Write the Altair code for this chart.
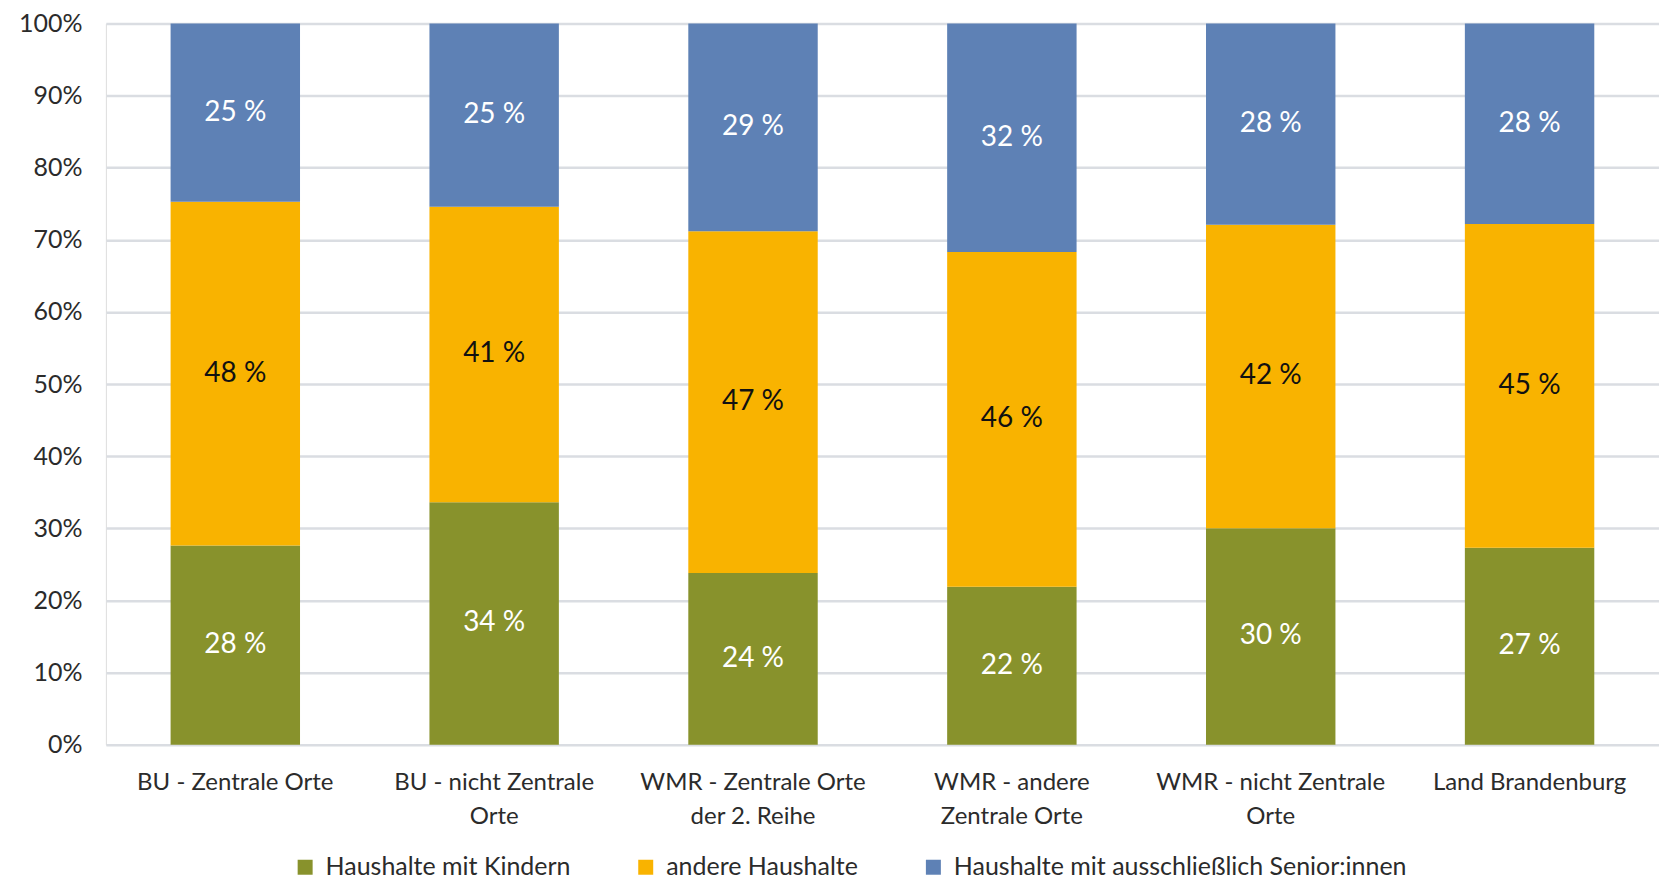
import altair as alt
import pandas as pd

categories = [
    "BU - Zentrale Orte",
    "BU - nicht Zentrale\nOrte",
    "WMR - Zentrale Orte\nder 2. Reihe",
    "WMR  - andere\nZentrale Orte",
    "WMR - nicht Zentrale\nOrte",
    "Land Brandenburg",
]
series = ["Haushalte mit Kindern", "andere Haushalte", "Haushalte mit ausschließlich Senior:innen"]
colors = ["#88922C", "#F9B300", "#5E81B5"]

kinder = [27.6, 33.6, 23.8, 21.9, 30.0, 27.3]
andere = [47.7, 41.0, 47.4, 46.4, 42.1, 44.9]
senior = [24.7, 25.4, 28.8, 31.7, 27.9, 27.8]

y_ticks = [0, 10, 20, 30, 40, 50, 60, 70, 80, 90, 100]

rows = []
for i, c in enumerate(categories):
    for k, (s, vals) in enumerate(zip(series, [kinder, andere, senior])):
        rows.append({"cat": c, "series": s, "order": k, "value": vals[i]})
df = pd.DataFrame(rows)

FONT = "Lato"
TXT = "#2b2b2b"

base = alt.Chart(df).transform_stack(
    stack="value",
    groupby=["cat"],
    sort=[alt.SortField("order", order="ascending")],
    as_=["v0", "v1"],
).transform_calculate(
    mid="(datum.v0 + datum.v1) / 2",
    lbl="format(datum.value, '.0f') + ' %'",
)

x_enc = alt.X(
    "cat:N",
    sort=categories,
    title=None,
    scale=alt.Scale(paddingInner=0.5, paddingOuter=0.25),
    axis=alt.Axis(
        labelExpr="split(datum.label, '\\n')",
        labelAngle=0,
        labelFont=FONT,
        labelFontSize=24,
        labelColor=TXT,
        labelLineHeight=34,
        labelPadding=26,
        labelLimit=500,
        domain=False,
        ticks=False,
        grid=False,
    ),
)

bars = base.mark_bar(strokeWidth=0).encode(
    x=x_enc,
    y=alt.Y(
        "v0:Q",
        title=None,
        scale=alt.Scale(domain=[0, 100], nice=False),
        axis=alt.Axis(
            values=y_ticks,
            labelExpr="datum.value + '%'",
            labelFont=FONT,
            labelFontSize=25,
            labelColor=TXT,
            labelPadding=24,
            domain=False,
            ticks=False,
            grid=True,
            gridColor="#DADDE2",
            gridWidth=2.5,
        ),
    ),
    y2="v1:Q",
    color=alt.Color(
        "series:N",
        sort=series,
        scale=alt.Scale(domain=series, range=colors),
        legend=alt.Legend(
            title=None,
            orient="none",
            direction="horizontal",
            legendX=187,
            legendY=832,
            symbolType="square",
            symbolSize=225,
            symbolStrokeWidth=0,
            symbolOpacity=1,
            labelFont=FONT,
            labelFontSize=25,
            labelColor=TXT,
            labelOffset=8,
            columnPadding=62,
            labelLimit=700,
        ),
    ),
    order=alt.Order("order:Q"),
)

labels = base.mark_text(font=FONT, fontSize=28, baseline="middle", align="center").encode(
    x=alt.X("cat:N", sort=categories),
    y=alt.Y("mid:Q"),
    text="lbl:N",
    color=alt.condition(
        "datum.series == 'andere Haushalte'", alt.value("#111111"), alt.value("#ffffff")
    ),
)

chart = (
    alt.layer(bars, labels)
    .properties(
        width=1555,
        height=722,
        autosize=alt.AutoSizeParams(type="none"),
        padding={"left": 98, "top": 15, "right": 0, "bottom": 138},
    )
    .configure_view(stroke=None)
    .configure(background="white")
)

chart.save("out.html", embed_options={"renderer": "svg", "actions": False})
